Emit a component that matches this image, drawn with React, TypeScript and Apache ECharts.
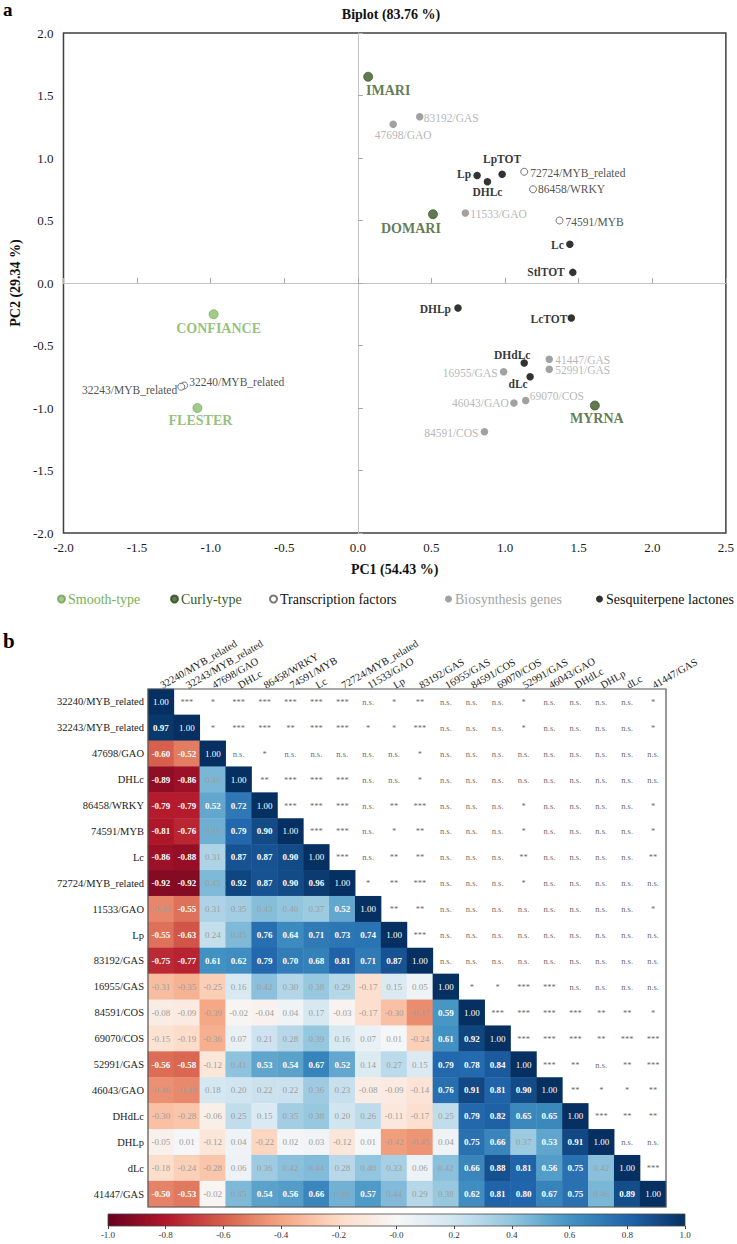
import React, { useEffect, useRef } from "react";
import * as echarts from "echarts";

const SERIF = '"Liberation Serif", "Times New Roman", serif';

// ---------- Biplot data ----------
const smoothNames = ["CONFIANCE", "FLESTER"];
const smoothX = [-0.98, -1.09];
const smoothY = [-0.25, -1.0];

const curlyNames = ["IMARI", "DOMARI", "MYRNA"];
const curlyX = [0.07, 0.51, 1.61];
const curlyY = [1.65, 0.55, -0.98];

const tfNames = ["72724/MYB_related", "86458/WRKY", "74591/MYB", "32240/MYB_related", "32243/MYB_related"];
const tfX = [1.13, 1.19, 1.37, -1.18, -1.2];
const tfY = [0.89, 0.75, 0.5, -0.82, -0.83];

const bioNames = ["83192/GAS", "47698/GAO", "11533/GAO", "41447/GAS", "52991/GAS", "16955/GAS", "69070/COS", "46043/GAO", "84591/COS"];
const bioX = [0.42, 0.24, 0.73, 1.3, 1.3, 0.99, 1.14, 1.06, 0.86];
const bioY = [1.33, 1.27, 0.56, -0.61, -0.69, -0.71, -0.94, -0.96, -1.19];

const slNames = ["Lp", "LpTOT", "DHLc", "Lc", "StlTOT", "DHLp", "LcTOT", "DHdLc", "dLc"];
const slX = [0.81, 0.98, 0.88, 1.44, 1.46, 0.68, 1.45, 1.13, 1.17];
const slY = [0.86, 0.87, 0.81, 0.31, 0.085, -0.2, -0.28, -0.64, -0.75];

// ---------- Correlation data ----------
const genes = [
  "32240/MYB_related", "32243/MYB_related", "47698/GAO", "DHLc", "86458/WRKY", "74591/MYB", "Lc",
  "72724/MYB_related", "11533/GAO", "Lp", "83192/GAS", "16955/GAS", "84591/COS", "69070/COS",
  "52991/GAS", "46043/GAO", "DHdLc", "DHLp", "dLc", "41447/GAS",
];

const corrLower: number[][] = [
  [],
  [0.97],
  [-0.6, -0.52],
  [-0.89, -0.86, 0.46],
  [-0.79, -0.79, 0.52, 0.72],
  [-0.81, -0.76, 0.49, 0.79, 0.9],
  [-0.86, -0.88, 0.31, 0.87, 0.87, 0.9],
  [-0.92, -0.92, 0.45, 0.92, 0.87, 0.9, 0.96],
  [-0.49, -0.55, 0.31, 0.35, 0.43, 0.4, 0.37, 0.52],
  [-0.55, -0.63, 0.24, 0.45, 0.76, 0.64, 0.71, 0.73, 0.74],
  [-0.75, -0.77, 0.61, 0.62, 0.79, 0.7, 0.68, 0.81, 0.71, 0.87],
  [-0.31, -0.35, -0.25, 0.16, 0.42, 0.3, 0.38, 0.29, -0.17, 0.15, 0.05],
  [-0.08, -0.09, -0.39, -0.02, -0.04, 0.04, 0.17, -0.03, -0.17, -0.3, -0.47, 0.59],
  [-0.15, -0.19, -0.36, 0.07, 0.21, 0.28, 0.39, 0.16, 0.07, 0.01, -0.24, 0.61, 0.92],
  [-0.56, -0.58, -0.12, 0.41, 0.53, 0.54, 0.67, 0.52, 0.14, 0.27, 0.15, 0.79, 0.78, 0.84],
  [-0.46, -0.48, 0.18, 0.2, 0.22, 0.22, 0.36, 0.23, -0.08, -0.09, -0.14, 0.76, 0.91, 0.81, 0.9],
  [-0.3, -0.28, -0.06, 0.25, 0.15, 0.35, 0.38, 0.2, 0.26, -0.11, -0.17, 0.25, 0.79, 0.82, 0.65, 0.65],
  [-0.05, 0.01, -0.12, 0.04, -0.22, 0.02, 0.03, -0.12, 0.01, -0.42, -0.45, 0.04, 0.75, 0.66, 0.37, 0.53, 0.91],
  [-0.18, -0.24, -0.28, 0.06, 0.36, 0.42, 0.44, 0.28, 0.4, 0.33, 0.06, 0.42, 0.66, 0.88, 0.81, 0.56, 0.75, 0.42],
  [-0.5, -0.53, -0.02, 0.45, 0.54, 0.56, 0.66, 0.48, 0.57, 0.44, 0.29, 0.38, 0.62, 0.81, 0.8, 0.67, 0.75, 0.46, 0.89],
];

const NS = "n.s.";
const sigUpper: string[][] = [
  ["***", "*", "***", "***", "***", "***", "***", NS, "*", "**", NS, NS, NS, "*", NS, NS, NS, NS, "*"],
  ["*", "***", "***", "**", "***", "***", "*", "*", "***", NS, NS, NS, "*", NS, NS, NS, NS, "*"],
  [NS, "*", NS, NS, NS, NS, NS, "*", NS, NS, NS, NS, NS, NS, NS, NS, NS],
  ["**", "***", "***", "***", NS, NS, "*", NS, NS, NS, NS, NS, NS, NS, NS, NS],
  ["***", "***", "***", NS, "**", "***", NS, NS, NS, "*", NS, NS, NS, NS, "*"],
  ["***", "***", NS, "*", "**", NS, NS, NS, "*", NS, NS, NS, NS, "*"],
  ["***", NS, "**", "**", NS, NS, NS, "**", NS, NS, NS, NS, "**"],
  ["*", "**", "***", NS, NS, NS, "*", NS, NS, NS, NS, NS],
  ["**", "**", NS, NS, NS, NS, NS, NS, NS, NS, "*"],
  ["***", NS, NS, NS, NS, NS, NS, NS, NS, NS],
  [NS, NS, NS, NS, NS, NS, NS, NS, NS],
  ["*", "*", "***", "***", NS, NS, NS, NS],
  ["***", "***", "***", "***", "**", "**", "*"],
  ["***", "***", "***", "**", "***", "***"],
  ["***", "**", NS, "**", "***"],
  ["**", "*", "*", "**"],
  ["***", "**", "**"],
  [NS, NS],
  ["***"],
  [],
];

const colorbarTicks = ["-1.0", "-0.8", "-0.6", "-0.4", "-0.2", "-0.0", "0.2", "0.4", "0.6", "0.8", "1.0"];

// ---------- styles ----------
const RDBU = ["#67001f", "#b2182b", "#d6604d", "#f4a582", "#fddbc7", "#f7f7f7", "#d1e5f0", "#92c5de", "#4393c3", "#2166ac", "#053061"];

const LIGHT_GREEN = "#8cbf6a";
const LIGHT_GREEN_TXT = "#79b158";
const DARK_GREEN = "#3a5a24";
const GRAY_DOT = "#8a8a8a";
const GRAY_TXT = "#a3a3a3";

const NO_STROKE = { textBorderWidth: 0, textBorderColor: "transparent", textShadowBlur: 0 };

// label layout: [align, dx, dy] relative to the dot centre
const labelLayout: Record<string, [string, number, number]> = {
  CONFIANCE: ["center", 5, 14],
  FLESTER: ["center", 3, 12],
  IMARI: ["center", 20, 14],
  DOMARI: ["center", -22, 14],
  MYRNA: ["center", 2, 13],
  "72724/MYB_related": ["left", 6, 1],
  "86458/WRKY": ["left", 5, 0],
  "74591/MYB": ["left", 6, 1],
  "32240/MYB_related": ["left", 5, -4],
  "32243/MYB_related": ["right", -4, 3],
  "83192/GAS": ["left", 4, 1],
  "47698/GAO": ["center", 10, 11],
  "11533/GAO": ["left", 5, 1],
  "41447/GAS": ["left", 6, 1],
  "52991/GAS": ["left", 6, 1],
  "16955/GAS": ["right", -6, 1],
  "69070/COS": ["left", 4, -5],
  "46043/GAO": ["right", -5, 0],
  "84591/COS": ["right", -6, 1],
  Lp: ["right", -6, -2],
  LpTOT: ["center", 0, -15],
  DHLc: ["center", 0, 10],
  Lc: ["right", -6, 1],
  StlTOT: ["right", -8, 0],
  DHLp: ["right", -7, 1],
  LcTOT: ["right", -4, 1],
  DHdLc: ["center", -12, -8],
  dLc: ["center", -12, 7],
};

function pointSeries(name: string, names: string[], xs: number[], ys: number[], o: any) {
  return {
    type: "scatter",
    name,
    xAxisIndex: 0,
    yAxisIndex: 0,
    symbol: "circle",
    symbolSize: o.size,
    itemStyle: o.itemStyle,
    z: o.z,
    emphasis: { disabled: true },
    label: {
      show: true,
      position: "inside",
      verticalAlign: "middle",
      formatter: "{b}",
      color: o.labelColor,
      fontSize: o.fontSize,
      fontWeight: o.fontWeight,
      fontFamily: SERIF,
      ...NO_STROKE,
    },
    data: names.map((n, i) => {
      const [al, dx, dy] = labelLayout[n] || ["left", 5, 0];
      return { name: n, value: [xs[i], ys[i]], label: { align: al, offset: [dx, dy] } };
    }),
  };
}

function buildOption() {
  const heatData: any[] = [];
  for (let i = 0; i < genes.length; i++) {
    for (let j = 0; j <= i; j++) {
      const v = j === i ? 1 : corrLower[i][j];
      let color = "#9e9e9e";
      let fontWeight: any = "normal";
      if (j === i) {
        color = "#ffffff";
      } else if (Math.abs(v) >= 0.5) {
        color = "#ffffff";
        fontWeight = "bold";
      }
      heatData.push({ value: [j, i, v], label: { color, fontWeight } });
    }
  }
  const sigData: any[] = [];
  for (let i = 0; i < genes.length; i++) {
    sigUpper[i].forEach((s, k) => {
      sigData.push({ name: s, value: [i + 1 + k, i] });
    });
  }

  const biplotLabel = {
    fontFamily: SERIF,
    fontSize: 13,
    color: "#1a1a1a",
    formatter: (v: number) => v.toFixed(1),
  };

  return {
    animation: false,
    textStyle: { fontFamily: SERIF },
    grid: [
      { left: 54, top: 33, width: 675, height: 500, show: true, borderColor: "#3f3f3f", borderWidth: 1.5, backgroundColor: "transparent" },
      { left: 148, top: 689, width: 518, height: 518 },
      { left: 108, top: 1214, width: 577, height: 12 },
    ],
    xAxis: [
      {
        gridIndex: 0, type: "value", min: -2, max: 2.5, interval: 0.5, position: "bottom",
        axisLine: { show: false, onZero: false }, axisTick: { show: false }, splitLine: { show: false },
        axisLabel: { ...biplotLabel, margin: 8 },
        name: "PC1 (54.43 %)", nameLocation: "middle", nameGap: 29,
        nameTextStyle: { fontFamily: SERIF, fontSize: 14, fontWeight: "bold", color: "#111" },
      },
      {
        gridIndex: 0, type: "value", min: -2, max: 2.5, interval: 0.5, position: "top",
        axisLine: { show: true, onZero: true, onZeroAxisIndex: 0, lineStyle: { color: "#c4c4c4", width: 1 } },
        axisTick: { show: true, length: 5, lineStyle: { color: "#a8a8a8" } },
        axisLabel: { show: false }, splitLine: { show: false },
      },
      {
        gridIndex: 1, type: "category", data: genes, position: "top",
        axisLine: { show: false }, axisTick: { show: false }, splitLine: { show: false },
        axisLabel: { rotate: -30, interval: 0, fontFamily: SERIF, fontSize: 10.5, color: "#222", margin: 3 },
      },
      {
        gridIndex: 2, type: "value", min: -1, max: 1, interval: 0.2, position: "bottom",
        axisLine: { show: false, onZero: false }, splitLine: { show: false },
        axisTick: { show: true, length: 3, lineStyle: { color: "#444" } },
        axisLabel: {
          fontFamily: SERIF, fontSize: 9, color: "#333", margin: 4,
          formatter: (v: number) => colorbarTicks[Math.round((v + 1) / 0.2)] ?? "",
        },
      },
    ],
    yAxis: [
      {
        gridIndex: 0, type: "value", min: -2, max: 2, interval: 0.5, position: "left",
        axisLine: { show: false, onZero: false }, axisTick: { show: false }, splitLine: { show: false },
        axisLabel: { ...biplotLabel, margin: 10 },
        name: "PC2 (29.34 %)", nameLocation: "middle", nameGap: 40, nameRotate: 90,
        nameTextStyle: { fontFamily: SERIF, fontSize: 14, fontWeight: "bold", color: "#111" },
      },
      {
        gridIndex: 0, type: "value", min: -2, max: 2, interval: 0.5, position: "right",
        axisLine: { show: true, onZero: true, onZeroAxisIndex: 0, lineStyle: { color: "#c4c4c4", width: 1 } },
        axisTick: { show: true, length: 5, lineStyle: { color: "#a8a8a8" } },
        axisLabel: { show: false }, splitLine: { show: false },
      },
      {
        gridIndex: 1, type: "category", data: genes, inverse: true, position: "left",
        axisLine: { show: false }, axisTick: { show: false }, splitLine: { show: false },
        axisLabel: { interval: 0, fontFamily: SERIF, fontSize: 10.5, color: "#222", margin: 4 },
      },
      { gridIndex: 2, type: "value", show: false, min: 0, max: 1 },
    ],
    visualMap: {
      show: false, type: "continuous", min: -1, max: 1, dimension: 2, seriesIndex: 5,
      inRange: { color: RDBU },
    },
    legend: [
      { name: "Smooth-type", left: 52, color: LIGHT_GREEN_TXT },
      { name: "Curly-type", left: 165, color: DARK_GREEN },
      { name: "Transcription factors", left: 264, color: "#111" },
      { name: "Biosynthesis genes", left: 440, color: GRAY_TXT },
      { name: "Sesquiterpene lactones", left: 591, color: "#111" },
    ].map((l) => ({
      data: [{ name: l.name, icon: "circle", textStyle: { color: l.color } }],
      left: l.left, top: 587, itemWidth: 7, itemHeight: 7, selectedMode: false,
      textStyle: { fontFamily: SERIF, fontSize: 14, padding: [0, 0, 0, -2] },
    })),
    series: [
      pointSeries("Smooth-type", smoothNames, smoothX, smoothY, {
        size: 9, itemStyle: { color: LIGHT_GREEN, borderColor: "#6f9e52", borderWidth: 0.8 },
        labelColor: LIGHT_GREEN_TXT, fontSize: 14, fontWeight: "bold", z: 3,
      }),
      pointSeries("Curly-type", curlyNames, curlyX, curlyY, {
        size: 9, itemStyle: { color: DARK_GREEN, borderColor: "#2c461b", borderWidth: 0.8 },
        labelColor: DARK_GREEN, fontSize: 14, fontWeight: "bold", z: 3,
      }),
      pointSeries("Transcription factors", tfNames, tfX, tfY, {
        size: 7, itemStyle: { color: "#ffffff", borderColor: "#555", borderWidth: 1 },
        labelColor: "#222", fontSize: 11.5, fontWeight: "normal", z: 3,
      }),
      pointSeries("Biosynthesis genes", bioNames, bioX, bioY, {
        size: 7.5, itemStyle: { color: GRAY_DOT },
        labelColor: GRAY_TXT, fontSize: 11.5, fontWeight: "normal", z: 3,
      }),
      pointSeries("Sesquiterpene lactones", slNames, slX, slY, {
        size: 7.5, itemStyle: { color: "#000" },
        labelColor: "#000", fontSize: 11.5, fontWeight: "bold", z: 4,
      }),
      {
        type: "heatmap", xAxisIndex: 2, yAxisIndex: 2, data: heatData,
        itemStyle: { borderWidth: 0 }, emphasis: { disabled: true },
        label: {
          show: true, fontFamily: SERIF, fontSize: 9, ...NO_STROKE,
          formatter: (p: any) => Number(p.value[2]).toFixed(2),
        },
      },
      {
        type: "scatter", xAxisIndex: 2, yAxisIndex: 2, data: sigData,
        symbol: "rect", symbolSize: 1, itemStyle: { color: "rgba(0,0,0,0)" },
        emphasis: { disabled: true }, silent: true,
        label: { show: true, position: "inside", formatter: "{b}", fontFamily: SERIF, fontSize: 8.5, color: "#3c3c3c", ...NO_STROKE },
      },
      { type: "scatter", xAxisIndex: 3, yAxisIndex: 3, data: [], silent: true },
    ],
    graphic: [
      { type: "text", x: 3, y: 0, style: { text: "a", font: `bold 19px ${SERIF}`, fill: "#000", align: "left", verticalAlign: "top" } },
      { type: "text", x: 3, y: 630, style: { text: "b", font: `bold 21px ${SERIF}`, fill: "#000", align: "left", verticalAlign: "top" } },
      { type: "text", x: 391, y: 14, style: { text: "Biplot (83.76 %)", font: `bold 14px ${SERIF}`, fill: "#111", align: "center", verticalAlign: "middle" } },
      { type: "rect", z: 100, shape: { x: 148, y: 689, width: 518, height: 518 }, style: { fill: "none", stroke: "#555", lineWidth: 1.2 }, silent: true },
      {
        type: "rect", z: 100, shape: { x: 108, y: 1214, width: 577, height: 12 }, silent: true,
        style: {
          fill: new echarts.graphic.LinearGradient(0, 0, 1, 0, RDBU.map((c, i) => ({ offset: i / (RDBU.length - 1), color: c }))),
          stroke: "#444", lineWidth: 0.8,
        },
      },
    ],
  };
}

export default function App() {
  const ref = useRef<HTMLDivElement>(null);
  useEffect(() => {
    document.body.style.margin = "0";
    const chart = echarts.init(ref.current!, undefined, { renderer: "svg" });
    chart.setOption(buildOption() as any);
    return () => chart.dispose();
  }, []);
  return <div ref={ref} style={{ width: 737, height: 1244 }} />;
}
